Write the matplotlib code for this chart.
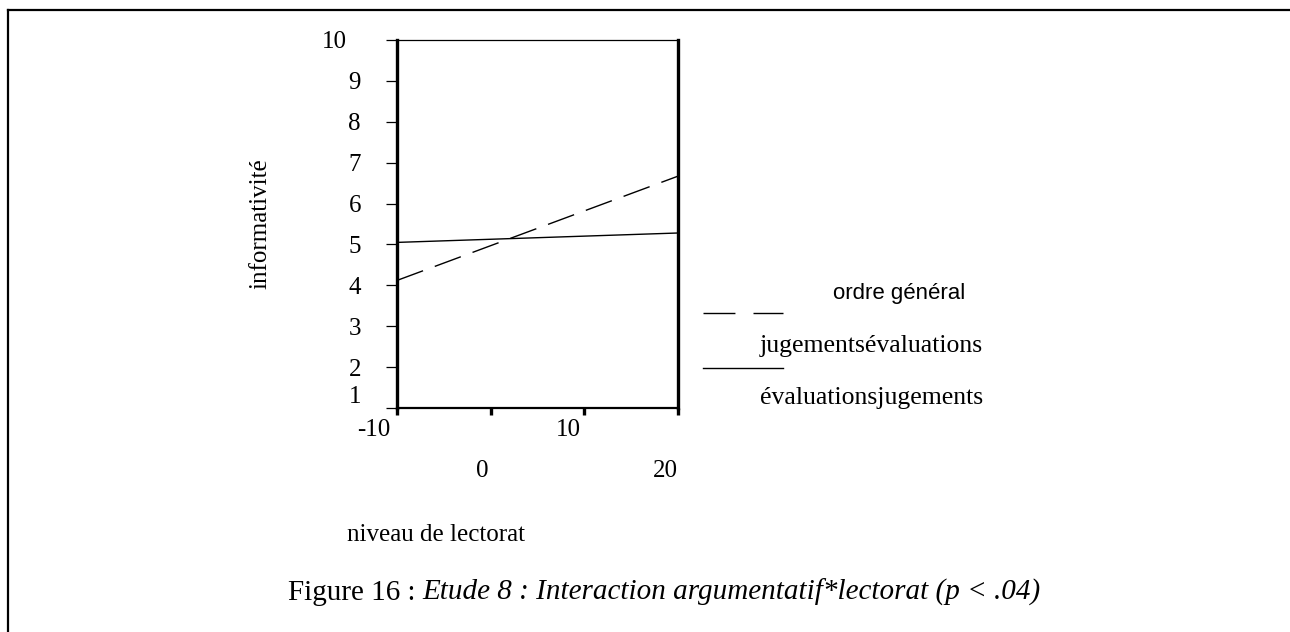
import numpy as np
import matplotlib.pyplot as plt
from matplotlib.lines import Line2D
from matplotlib.transforms import ScaledTranslation

# données
niveau = [-10, 20]
jugements_evaluations = [4.12, 6.67]   # tirets
evaluations_jugements = [5.05, 5.28]   # trait plein

xticks = [-10, 0, 10, 20]
xlabels = ['-10', '0', '10', '20']
yticks = list(range(1, 11))

serif = ['Liberation Serif', 'DejaVu Serif']
sans = ['Liberation Sans', 'DejaVu Sans']
plt.rcParams['font.family'] = serif
plt.rcParams['lines.scale_dashes'] = False

W, H = 1290, 632
fig = plt.figure(figsize=(W / 100, H / 100), dpi=100)
ax = fig.add_axes([397 / W, 1 - 408 / H, (678 - 397) / W, (408 - 40) / H])

ax.plot(niveau, jugements_evaluations, color='black', lw=1, dashes=(20, 9))
ax.plot(niveau, evaluations_jugements, color='black', lw=1)

ax.set_xlim(-10, 20)
ax.set_ylim(1, 10)

# axes
ax.spines['left'].set_linewidth(2.4)
ax.spines['right'].set_linewidth(2.4)
ax.spines['bottom'].set_linewidth(1.6)
ax.spines['top'].set_linewidth(0.9)

ax.set_yticks(yticks)
ax.set_yticklabels([str(v) for v in yticks], fontsize=18)
ax.tick_params(axis='y', direction='out', length=8, width=0.9, pad=18)
ylabs = ax.get_yticklabels()
ylabs[0].set_va('bottom')
# le "10" est décalé vers la gauche dans l'original
ylabs[-1].set_transform(ylabs[-1].get_transform() + ScaledTranslation(-0.14, 0, fig.dpi_scale_trans))

ax.set_xticks(xticks)
ax.set_xticklabels([])
ax.tick_params(axis='x', direction='out', length=5, width=2.4)
# étiquettes de l'axe x en quinconce
for i, (xv, lab) in enumerate(zip(xticks, xlabels)):
    dy = -22 if i % 2 == 0 else -63
    dx = [-23, -8, -16, -13][i]
    ax.annotate(lab, xy=(xv, 0), xycoords=('data', 'axes fraction'),
                xytext=(dx, dy), textcoords='offset pixels',
                ha='center', va='center', fontsize=18, annotation_clip=False)

fig.text(260 / W, 1 - 224 / H, 'informativité', rotation=90,
         ha='center', va='center', fontsize=18)
fig.text(347 / W, 1 - 535 / H, 'niveau de lectorat', ha='left', va='center', fontsize=18)

# légende
fig.text(833 / W, 1 - 294 / H, 'ordre général', family=sans, fontsize=16, ha='left', va='center')
fig.add_artist(Line2D([703 / W, 783 / W], [1 - 313 / H] * 2, color='black', lw=1, dashes=(23, 13)))
fig.text(760 / W, 1 - 346 / H, 'jugementsévaluations', ha='left', va='center', fontsize=18.5)
fig.add_artist(Line2D([703 / W, 783 / W], [1 - 368 / H] * 2, color='black', lw=1))
fig.text(760 / W, 1 - 398 / H, 'évaluationsjugements', ha='left', va='center', fontsize=18.5)

# légende de la figure
t1 = fig.text(288 / W, 1 - 600 / H, 'Figure 16 : ', ha='left', va='baseline', fontsize=21)
ax.annotate('Etude 8 : Interaction argumentatif*lectorat (p < .04)', xy=(1, 0), xycoords=t1,
            xytext=(0, 0), textcoords='offset points', ha='left', va='bottom',
            fontsize=21, style='italic', annotation_clip=False)

# cadre
fig.add_artist(Line2D([8 / W, 1], [1 - 10 / H] * 2, color='black', lw=1.6))
fig.add_artist(Line2D([8 / W] * 2, [1 - 10 / H, 0], color='black', lw=1.6))

fig.savefig('out.png', dpi=100)
